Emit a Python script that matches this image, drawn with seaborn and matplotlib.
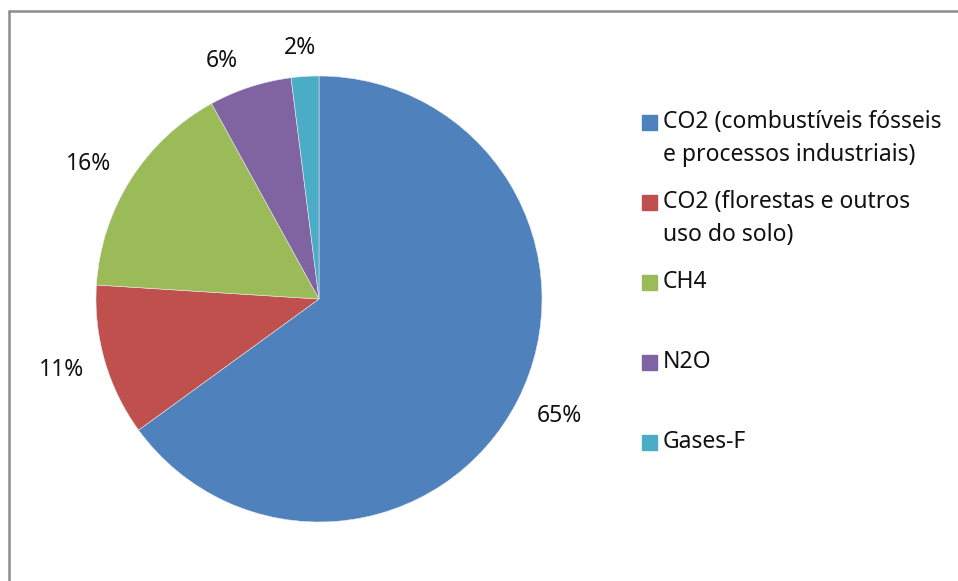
import numpy as np
import matplotlib
matplotlib.use('Agg')
import matplotlib.pyplot as plt
import seaborn as sns
from matplotlib.patches import Rectangle

sns.set_theme(style='white')
plt.rcParams['font.family'] = ['Noto Sans', 'DejaVu Sans']

gases = ['CO2 (combustíveis fósseis\ne processos industriais)',
         'CO2 (florestas e outros\nuso do solo)',
         'CH4', 'N2O', 'Gases-F']
shares = [65, 11, 16, 6, 2]
colors = ['#4F81BD', '#C0504D', '#9BBB59', '#8064A2', '#4BACC6']

# where each percent label sits: distance in radii, angle nudge in degrees
label_dist = [1.197, 1.196, 1.196, 1.153, 1.129]
label_nudge = [1.0, -0.8, 2.0, 4.2, 0.7]

W, H = 958, 581
fig = plt.figure(figsize=(W / 100, H / 100), dpi=100)
ax = fig.add_axes([0, 0, 1, 1])

cx, cy, r = 319, H - 299, 223
wedges, _, pcts = ax.pie(shares, colors=colors, startangle=90, counterclock=False,
                         center=(cx, cy), radius=r, autopct='%d%%', frame=True,
                         wedgeprops={'linewidth': 0.4, 'edgecolor': '#e8e8e8'},
                         textprops={'fontsize': 16.5, 'color': '#111111'})
for w, t, d, n in zip(wedges, pcts, label_dist, label_nudge):
    ang = np.deg2rad((w.theta1 + w.theta2) / 2 + n)
    t.set_position((cx + d * r * np.cos(ang), cy + d * r * np.sin(ang)))

ax.set_xlim(0, W)
ax.set_ylim(0, H)
ax.set_aspect('equal')
ax.axis('off')

# chart frame: only top and left edges show inside the picture
ax.plot([9, W + 5], [H - 11, H - 11], color='#8c8c8c', lw=1.8, clip_on=False)
ax.plot([9, 9], [H - 11, -5], color='#8c8c8c', lw=1.8, clip_on=False)

# legend drawn by hand: entries top aligned in equal slots
for i, (name, c) in enumerate(zip(gases, colors)):
    y = H - 122 - 80 * i
    ax.add_patch(Rectangle((642, y - 7.5), 15, 15, color=c))
    ax.text(663, y + 12, name, fontsize=16.5, color='#111111', va='top', ha='left',
            linespacing=1.5)

fig.savefig('out.png', dpi=100)
